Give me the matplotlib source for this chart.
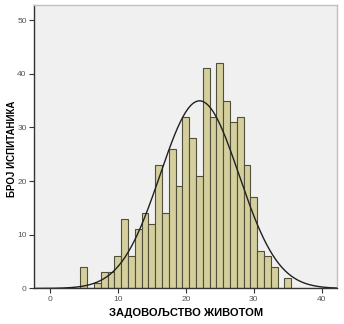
import numpy as np
import matplotlib
matplotlib.use('Agg')
import matplotlib.pyplot as plt

# histogram counts (bin width 1)
scores = [5, 6, 7, 8, 9, 10, 11, 12, 13, 14, 15, 16, 17, 18, 19, 20,
          21, 22, 23, 24, 25, 26, 27, 28, 29, 30, 31, 32, 33, 34, 35]
counts = [4, 0, 1, 3, 3, 6, 13, 6, 11, 14, 12, 23, 14, 26, 19, 32,
          28, 21, 41, 32, 42, 35, 31, 32, 23, 17, 7, 6, 4, 0, 2]
x_ticks = [0, 10, 20, 30, 40]
y_ticks = [0, 10, 20, 30, 40, 50]
x_label = 'ЗАДОВОЉСТВО ЖИВОТОМ'
y_label = 'БРОЈ ИСПИТАНИКА'

plt.rcParams['font.family'] = ['Liberation Sans', 'DejaVu Sans']

fig = plt.figure(figsize=(3.44, 3.24), dpi=100)
fig.patch.set_facecolor('white')
ax = fig.add_axes([0.0997, 0.1096, 0.8808, 0.875])
ax.set_facecolor('#f0f0f0')

ax.bar(scores, counts, width=1.0, color='#d4cf9c', edgecolor='#4f4f3a',
       linewidth=0.8, zorder=2)

# normal curve from the same data
vals = np.repeat(scores, counts)
mu, sd = vals.mean(), vals.std(ddof=1)
xs = np.linspace(-2.5, 42.5, 400)
ys = len(vals) * 1.0 / (sd * np.sqrt(2 * np.pi)) * np.exp(-0.5 * ((xs - mu) / sd) ** 2)
ax.plot(xs, ys, color='#202020', linewidth=1.0, zorder=3)

ax.set_xlim(-2.3, 42.3)
ax.set_ylim(0, 52.8)
ax.set_xticks(x_ticks)
ax.set_yticks(y_ticks)
ax.tick_params(axis='both', labelsize=6, colors='#333333', length=3.5, width=0.8,
               direction='out', pad=2)
ax.tick_params(axis='x', labelcolor='#555555')
ax.tick_params(axis='y', labelcolor='#555555')

for side in ['left', 'bottom']:
    ax.spines[side].set_color('#333333')
    ax.spines[side].set_linewidth(1.0)
for side in ['top', 'right']:
    ax.spines[side].set_color('#c0c0c0')
    ax.spines[side].set_linewidth(1.0)

ax.set_xlabel(x_label, fontsize=8, fontweight='bold')
ax.xaxis.set_label_coords(0.5, -0.07)
ax.set_ylabel(y_label, fontsize=7, fontweight='bold')
ax.yaxis.set_label_coords(-0.056, 0.494)

fig.savefig('out.png', dpi=100)
